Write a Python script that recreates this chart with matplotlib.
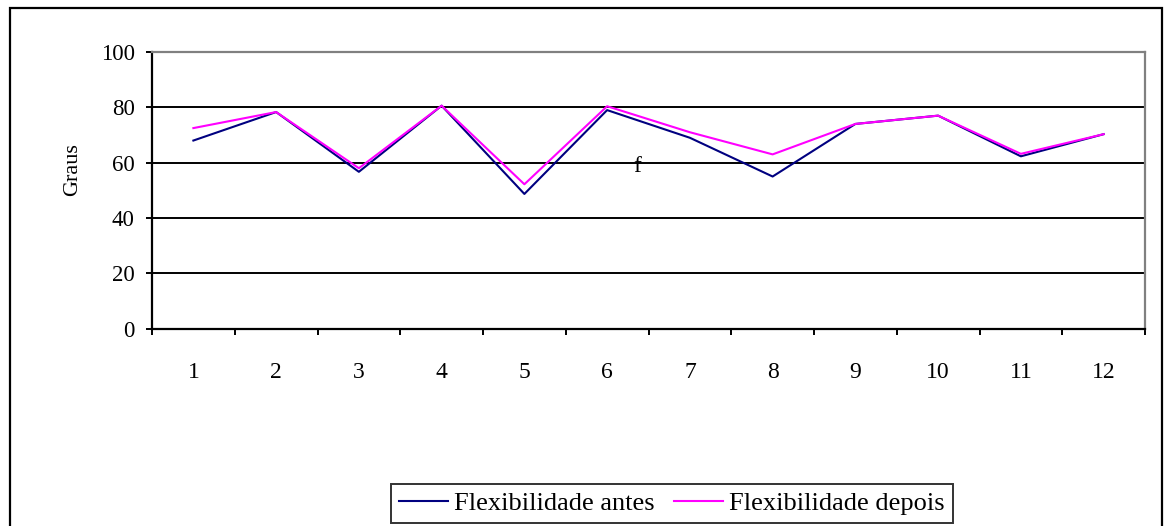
import numpy as np
import matplotlib.pyplot as plt
from matplotlib.patches import Rectangle

# dados
sessoes = [1, 2, 3, 4, 5, 6, 7, 8, 9, 10, 11, 12]
flex_antes = [68, 78.3, 56.7, 80.6, 48.7, 79, 69, 55, 74, 77, 62.3, 70.3]
flex_depois = [72.5, 78.3, 58, 80.6, 52.2, 80.4, 71, 63, 74, 77, 63.2, 70.3]
yticks = [0, 20, 40, 60, 80, 100]

plt.rcParams['font.family'] = ['Liberation Serif', 'DejaVu Serif']

W, H = 1167, 526
fig = plt.figure(figsize=(W / 100, H / 100), dpi=100)
ax = fig.add_axes([152 / W, 1 - 328.7 / H, (1145 - 152) / W, (328.7 - 52) / H])

x = np.arange(len(sessoes))
for v in yticks[1:-1]:
    ax.axhline(v, color='black', lw=1.4, zorder=1)
ax.plot(x, flex_antes, color='#000080', lw=1.5, label='Flexibilidade antes', zorder=3)
ax.plot(x, flex_depois, color='#FF00FF', lw=1.5, label='Flexibilidade depois', zorder=4)

ax.set_xlim(-0.5, len(sessoes) - 0.5)
ax.set_ylim(0, 100)
ax.set_yticks(yticks)
ax.set_yticklabels([str(v) for v in yticks], fontsize=16.5)
ax.set_xticks(x)
ax.set_xticklabels([str(s) for s in sessoes], fontsize=17)
ax.set_xticks(np.arange(len(sessoes) + 1) - 0.5, minor=True)
ax.tick_params(axis='x', which='major', length=0, pad=24)
ax.tick_params(axis='x', which='minor', length=4.5, width=1.4, direction='out', color='black')
ax.tick_params(axis='y', length=4.5, width=1.4, direction='out', pad=8)

for lado in ['left', 'bottom']:
    ax.spines[lado].set_color('black')
    ax.spines[lado].set_linewidth(1.6)
for lado in ['top', 'right']:
    ax.spines[lado].set_color('#808080')
    ax.spines[lado].set_linewidth(1.6)

ax.text(5.36, 58.7, 'f', fontsize=17, ha='center', va='center')
fig.text(73 / W, 1 - 170 / H, 'Graus', rotation=90, fontsize=16, ha='center', va='center')

leg = fig.legend(loc='upper left', bbox_to_anchor=(391 / W, 1 - 484 / H), ncol=2,
                 fontsize=19, frameon=True, fancybox=False, borderaxespad=0,
                 handlelength=1.85, handletextpad=0.23, columnspacing=0.75,
                 borderpad=0.3)
leg.get_frame().set_edgecolor('black')
leg.get_frame().set_linewidth(1.4)
for linha in leg.get_lines():
    linha.set_linewidth(1.5)

fig.patches.append(Rectangle((10 / W, -0.05), (1162 - 10) / W, 1.05 - 8 / H,
                             transform=fig.transFigure, fill=False,
                             edgecolor='black', lw=1.6))

fig.savefig('out.png', dpi=100)
